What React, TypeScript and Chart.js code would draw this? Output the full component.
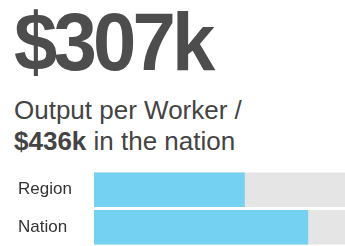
import React, { useEffect, useRef } from "react";
import { Chart, registerables } from "chart.js";

Chart.register(...registerables);

const headline = "$307k";
const subtitleLine1 = "Output per Worker /";
const nationValueLabel = "$436k";
const subtitleRest = " in the nation";

const categories = ["Region", "Nation"];
const values = [307, 436];
const scaleMax = 511;
const trackValues = [scaleMax, scaleMax];

export default function App() {
  const canvasRef = useRef<HTMLCanvasElement | null>(null);

  useEffect(() => {
    document.body.style.margin = "0";
    const canvas = canvasRef.current;
    if (!canvas) return;
    const chart = new Chart(canvas, {
      type: "bar",
      data: {
        labels: categories,
        datasets: [
          {
            data: values,
            backgroundColor: "#74d1f2",
            grouped: false,
            order: 0,
            barPercentage: 1,
            categoryPercentage: 0.92,
          },
          {
            data: trackValues,
            backgroundColor: "#e5e5e5",
            grouped: false,
            order: 1,
            barPercentage: 1,
            categoryPercentage: 0.92,
          },
        ],
      },
      options: {
        indexAxis: "y",
        animation: false,
        responsive: false,
        maintainAspectRatio: false,
        layout: { padding: { left: 18, right: 0, top: 0, bottom: 0 } },
        plugins: { legend: { display: false }, tooltip: { enabled: false } },
        scales: {
          x: { display: false, min: 0, max: scaleMax },
          y: {
            grid: { display: false },
            border: { display: false },
            ticks: {
              crossAlign: "far",
              padding: 0,
              color: "#333",
              font: { family: "Liberation Sans, Arial, sans-serif", size: 17 },
            },
            afterFit: (axis: any) => {
              axis.width = 76;
              axis.paddingTop = 0;
              axis.paddingBottom = 0;
            },
          },
        },
      },
    });
    return () => chart.destroy();
  }, []);

  return (
    <div style={{ position: "absolute", left: 0, top: 0, width: 345, height: 246, overflow: "hidden", background: "#fff", fontFamily: "Liberation Sans, Arial, sans-serif" }}>
      <div style={{ position: "absolute", left: 14, top: 1, fontSize: 82, lineHeight: "82px", fontWeight: 700, color: "#4d4d4d", letterSpacing: "-4px", whiteSpace: "nowrap", transform: "scaleX(0.95)", transformOrigin: "0 0" }}>
        {headline}
      </div>
      <div style={{ position: "absolute", left: 14, top: 94.5, fontSize: 26, lineHeight: "31px", color: "#444", whiteSpace: "nowrap" }}>
        <div>{subtitleLine1}</div>
        <div><b>{nationValueLabel}</b>{subtitleRest}</div>
      </div>
      <canvas ref={canvasRef} width={345} height={75} style={{ position: "absolute", left: 0, top: 171, width: 345, height: 75 }} />
    </div>
  );
}
